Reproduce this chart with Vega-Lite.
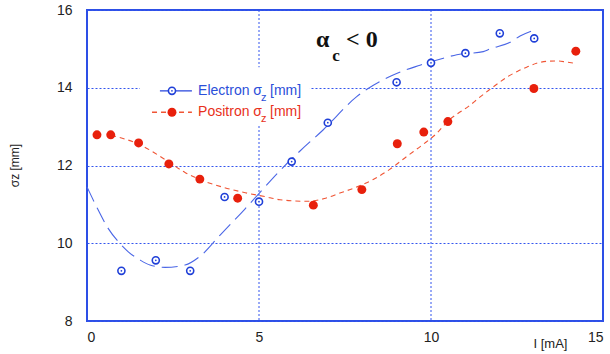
{
  "$schema": "https://vega.github.io/schema/vega-lite/v6.json",
  "autosize": {"type": "none"},
  "width": 516,
  "height": 311,
  "padding": {"left": 87, "top": 10, "right": 7, "bottom": 33},
  "background": "white",
  "config": {
    "view": {"stroke": "#2d4fe6", "strokeWidth": 2},
    "font": "Liberation Sans",
    "axis": {
      "gridColor": "#3355ee",
      "gridDash": [2, 2],
      "gridWidth": 1,
      "gridOpacity": 1,
      "domain": false,
      "ticks": false,
      "labelFontSize": 14,
      "labelColor": "#222222",
      "labelFont": "Liberation Sans",
      "titleFont": "Liberation Sans",
      "titleFontWeight": "normal",
      "titleColor": "#222222"
    },
    "axisX": {"grid": false},
    "axisY": {"grid": true}
  },
  "datasets": {
    "points": [
      {"series": "Electron", "I": 1.0, "sigma": 9.29},
      {"series": "Electron", "I": 2.0, "sigma": 9.56},
      {"series": "Electron", "I": 3.0, "sigma": 9.29},
      {"series": "Electron", "I": 4.0, "sigma": 11.19},
      {"series": "Electron", "I": 5.0, "sigma": 11.07},
      {"series": "Electron", "I": 5.95, "sigma": 12.1},
      {"series": "Electron", "I": 7.0, "sigma": 13.1},
      {"series": "Electron", "I": 9.0, "sigma": 14.14},
      {"series": "Electron", "I": 10.0, "sigma": 14.64},
      {"series": "Electron", "I": 11.0, "sigma": 14.89},
      {"series": "Electron", "I": 12.0, "sigma": 15.4},
      {"series": "Electron", "I": 13.0, "sigma": 15.27},
      {"series": "Positron", "I": 0.29, "sigma": 12.79},
      {"series": "Positron", "I": 0.69, "sigma": 12.79},
      {"series": "Positron", "I": 1.5, "sigma": 12.58},
      {"series": "Positron", "I": 2.38, "sigma": 12.04},
      {"series": "Positron", "I": 3.28, "sigma": 11.65},
      {"series": "Positron", "I": 4.38, "sigma": 11.16},
      {"series": "Positron", "I": 6.58, "sigma": 10.98},
      {"series": "Positron", "I": 7.99, "sigma": 11.38},
      {"series": "Positron", "I": 9.02, "sigma": 12.56},
      {"series": "Positron", "I": 9.79, "sigma": 12.86},
      {"series": "Positron", "I": 10.49, "sigma": 13.13},
      {"series": "Positron", "I": 12.99, "sigma": 13.98},
      {"series": "Positron", "I": 14.21, "sigma": 14.94}
    ],
    "fits": [
      {"series": "Electron", "I": 0.0, "sigma": 11.45},
      {"series": "Electron", "I": 0.3, "sigma": 10.9},
      {"series": "Electron", "I": 0.61, "sigma": 10.39},
      {"series": "Electron", "I": 0.9, "sigma": 10.05},
      {"series": "Electron", "I": 1.2, "sigma": 9.78},
      {"series": "Electron", "I": 1.54, "sigma": 9.57},
      {"series": "Electron", "I": 1.83, "sigma": 9.44},
      {"series": "Electron", "I": 2.27, "sigma": 9.38},
      {"series": "Electron", "I": 2.85, "sigma": 9.44},
      {"series": "Electron", "I": 3.28, "sigma": 9.66},
      {"series": "Electron", "I": 3.87, "sigma": 10.21},
      {"series": "Electron", "I": 4.59, "sigma": 10.88},
      {"series": "Electron", "I": 5.05, "sigma": 11.33},
      {"series": "Electron", "I": 5.61, "sigma": 11.87},
      {"series": "Electron", "I": 6.2, "sigma": 12.38},
      {"series": "Electron", "I": 6.87, "sigma": 12.92},
      {"series": "Electron", "I": 7.84, "sigma": 13.77},
      {"series": "Electron", "I": 8.9, "sigma": 14.33},
      {"series": "Electron", "I": 9.68, "sigma": 14.58},
      {"series": "Electron", "I": 10.36, "sigma": 14.76},
      {"series": "Electron", "I": 10.75, "sigma": 14.85},
      {"series": "Electron", "I": 11.52, "sigma": 14.93},
      {"series": "Electron", "I": 11.72, "sigma": 15.0},
      {"series": "Electron", "I": 12.3, "sigma": 15.17},
      {"series": "Electron", "I": 12.59, "sigma": 15.33},
      {"series": "Electron", "I": 13.02, "sigma": 15.49},
      {"series": "Positron", "I": 0.7, "sigma": 12.78},
      {"series": "Positron", "I": 1.5, "sigma": 12.55},
      {"series": "Positron", "I": 2.38, "sigma": 12.09},
      {"series": "Positron", "I": 2.85, "sigma": 11.82},
      {"series": "Positron", "I": 3.4, "sigma": 11.6},
      {"series": "Positron", "I": 4.0, "sigma": 11.43},
      {"series": "Positron", "I": 4.6, "sigma": 11.3},
      {"series": "Positron", "I": 5.17, "sigma": 11.2},
      {"series": "Positron", "I": 5.61, "sigma": 11.12},
      {"series": "Positron", "I": 6.39, "sigma": 11.08},
      {"series": "Positron", "I": 6.9, "sigma": 11.15},
      {"series": "Positron", "I": 7.35, "sigma": 11.29},
      {"series": "Positron", "I": 7.85, "sigma": 11.45},
      {"series": "Positron", "I": 8.32, "sigma": 11.64},
      {"series": "Positron", "I": 8.8, "sigma": 11.9},
      {"series": "Positron", "I": 9.29, "sigma": 12.23},
      {"series": "Positron", "I": 9.75, "sigma": 12.53},
      {"series": "Positron", "I": 10.17, "sigma": 12.83},
      {"series": "Positron", "I": 10.5, "sigma": 13.15},
      {"series": "Positron", "I": 10.8, "sigma": 13.35},
      {"series": "Positron", "I": 11.09, "sigma": 13.52},
      {"series": "Positron", "I": 11.38, "sigma": 13.73},
      {"series": "Positron", "I": 11.67, "sigma": 13.93},
      {"series": "Positron", "I": 11.96, "sigma": 14.12},
      {"series": "Positron", "I": 12.22, "sigma": 14.28},
      {"series": "Positron", "I": 12.51, "sigma": 14.42},
      {"series": "Positron", "I": 12.78, "sigma": 14.53},
      {"series": "Positron", "I": 13.07, "sigma": 14.63},
      {"series": "Positron", "I": 13.36, "sigma": 14.68},
      {"series": "Positron", "I": 13.65, "sigma": 14.69},
      {"series": "Positron", "I": 13.94, "sigma": 14.66},
      {"series": "Positron", "I": 14.19, "sigma": 14.63}
    ],
    "one": [{"k": 1}]
  },
  "layer": [
    {
      "data": {"name": "fits"},
      "mark": {"type": "line", "strokeWidth": 1.1, "interpolate": "monotone"},
      "encoding": {
        "x": {
          "field": "I", "type": "quantitative",
          "scale": {"domain": [0, 15], "nice": false, "zero": false},
          "axis": {"values": [0, 5, 10, 15], "labelPadding": 9, "title": "I [mA]", "titleX": 463, "titleY": 22, "titleAlign": "center", "titleBaseline": "middle", "titleFontSize": 13, "grid": false}
        },
        "y": {
          "field": "sigma", "type": "quantitative",
          "scale": {"domain": [8, 16], "nice": false, "zero": false},
          "axis": {"values": [8, 10, 12, 14, 16], "labelPadding": 15, "title": "σz [mm]", "titleX": -73, "titleY": 155, "titleAngle": -90, "titleAlign": "center", "titleBaseline": "middle", "titleFontSize": 12, "grid": true, "gridColor": "#3355ee"}
        },
        "color": {"field": "series", "type": "nominal", "scale": {"domain": ["Electron", "Positron"], "range": ["#4a66e6", "#f05535"]}, "legend": null},
        "strokeDash": {"field": "series", "type": "nominal", "scale": {"domain": ["Electron", "Positron"], "range": [[16, 7], [5, 4]]}, "legend": null}
      }
    },
    {
      "data": {"name": "one"},
      "mark": {"type": "rule", "color": "#3355ee", "strokeWidth": 1, "strokeDash": [2, 2]},
      "encoding": {"x": {"datum": 5, "type": "quantitative"}}
    },
    {
      "data": {"name": "one"},
      "mark": {"type": "rule", "color": "#3355ee", "strokeWidth": 1, "strokeDash": [2, 2]},
      "encoding": {"x": {"datum": 10, "type": "quantitative"}}
    },
    {
      "data": {"name": "one"},
      "mark": {"type": "rect", "fill": "white"},
      "encoding": {
        "x": {"datum": 1.54, "type": "quantitative"}, "x2": {"datum": 6.48},
        "y": {"datum": 14.53, "type": "quantitative"}, "y2": {"datum": 13.05}
      }
    },
    {
      "data": {"name": "points"},
      "transform": [{"filter": "datum.series === 'Positron'"}],
      "mark": {"type": "circle", "color": "#e8200c", "opacity": 1, "size": 80},
      "encoding": {"x": {"field": "I", "type": "quantitative"}, "y": {"field": "sigma", "type": "quantitative"}}
    },
    {
      "data": {"name": "points"},
      "transform": [{"filter": "datum.series === 'Electron'"}],
      "mark": {"type": "point", "shape": "circle", "filled": true, "fill": "white", "stroke": "#2040d8", "strokeWidth": 1.6, "opacity": 1, "size": 50},
      "encoding": {"x": {"field": "I", "type": "quantitative"}, "y": {"field": "sigma", "type": "quantitative"}}
    },
    {
      "data": {"name": "points"},
      "transform": [{"filter": "datum.series === 'Electron'"}],
      "mark": {"type": "circle", "color": "#2040d8", "opacity": 1, "size": 3},
      "encoding": {"x": {"field": "I", "type": "quantitative"}, "y": {"field": "sigma", "type": "quantitative"}}
    },
    {
      "data": {"name": "one"},
      "mark": {"type": "rule", "color": "#2645dd", "strokeWidth": 1.3},
      "encoding": {"x": {"datum": 2.12, "type": "quantitative"}, "x2": {"datum": 3.05}, "y": {"datum": 13.92, "type": "quantitative"}}
    },
    {
      "data": {"name": "one"},
      "mark": {"type": "rule", "color": "#f05535", "strokeWidth": 1.3, "strokeDash": [5, 4]},
      "encoding": {"x": {"datum": 1.89, "type": "quantitative"}, "x2": {"datum": 3.05}, "y": {"datum": 13.37, "type": "quantitative"}}
    },
    {
      "data": {"name": "one"},
      "mark": {"type": "point", "shape": "circle", "filled": true, "fill": "white", "stroke": "#2040d8", "strokeWidth": 1.6, "opacity": 1, "size": 50},
      "encoding": {"x": {"datum": 2.47, "type": "quantitative"}, "y": {"datum": 13.92, "type": "quantitative"}}
    },
    {
      "data": {"name": "one"},
      "mark": {"type": "circle", "color": "#2040d8", "opacity": 1, "size": 3},
      "encoding": {"x": {"datum": 2.47, "type": "quantitative"}, "y": {"datum": 13.92, "type": "quantitative"}}
    },
    {
      "data": {"name": "one"},
      "mark": {"type": "circle", "color": "#e8200c", "opacity": 1, "size": 80},
      "encoding": {"x": {"datum": 2.47, "type": "quantitative"}, "y": {"datum": 13.37, "type": "quantitative"}}
    },
    {
      "data": {"name": "one"},
      "mark": {"type": "text", "align": "left", "baseline": "middle", "fontSize": 14, "color": "#2b4fd9"},
      "encoding": {"x": {"datum": 3.23, "type": "quantitative"}, "y": {"datum": 13.92, "type": "quantitative"}, "text": {"value": "Electron σ"}}
    },
    {
      "data": {"name": "one"},
      "mark": {"type": "text", "align": "left", "baseline": "middle", "fontSize": 11, "color": "#2b4fd9", "dy": 7},
      "encoding": {"x": {"datum": 5.06, "type": "quantitative"}, "y": {"datum": 13.92, "type": "quantitative"}, "text": {"value": "z"}}
    },
    {
      "data": {"name": "one"},
      "mark": {"type": "text", "align": "left", "baseline": "middle", "fontSize": 14, "color": "#2b4fd9"},
      "encoding": {"x": {"datum": 5.32, "type": "quantitative"}, "y": {"datum": 13.92, "type": "quantitative"}, "text": {"value": "[mm]"}}
    },
    {
      "data": {"name": "one"},
      "mark": {"type": "text", "align": "left", "baseline": "middle", "fontSize": 14, "color": "#e8301a"},
      "encoding": {"x": {"datum": 3.23, "type": "quantitative"}, "y": {"datum": 13.37, "type": "quantitative"}, "text": {"value": "Positron σ"}}
    },
    {
      "data": {"name": "one"},
      "mark": {"type": "text", "align": "left", "baseline": "middle", "fontSize": 11, "color": "#e8301a", "dy": 7},
      "encoding": {"x": {"datum": 5.06, "type": "quantitative"}, "y": {"datum": 13.37, "type": "quantitative"}, "text": {"value": "z"}}
    },
    {
      "data": {"name": "one"},
      "mark": {"type": "text", "align": "left", "baseline": "middle", "fontSize": 14, "color": "#e8301a"},
      "encoding": {"x": {"datum": 5.32, "type": "quantitative"}, "y": {"datum": 13.37, "type": "quantitative"}, "text": {"value": "[mm]"}}
    },
    {
      "data": {"name": "one"},
      "mark": {"type": "text", "align": "left", "baseline": "alphabetic", "fontSize": 24, "font": "Liberation Serif", "fontWeight": "bold", "color": "#111111"},
      "encoding": {"x": {"datum": 6.66, "type": "quantitative"}, "y": {"datum": 15.04, "type": "quantitative"}, "text": {"value": "α"}}
    },
    {
      "data": {"name": "one"},
      "mark": {"type": "text", "align": "left", "baseline": "alphabetic", "fontSize": 17, "font": "Liberation Serif", "fontWeight": "bold", "color": "#111111"},
      "encoding": {"x": {"datum": 7.13, "type": "quantitative"}, "y": {"datum": 14.7, "type": "quantitative"}, "text": {"value": "c"}}
    },
    {
      "data": {"name": "one"},
      "mark": {"type": "text", "align": "left", "baseline": "alphabetic", "fontSize": 24, "font": "Liberation Serif", "fontWeight": "bold", "color": "#111111"},
      "encoding": {"x": {"datum": 7.53, "type": "quantitative"}, "y": {"datum": 15.04, "type": "quantitative"}, "text": {"value": "< 0"}}
    }
  ]
}
